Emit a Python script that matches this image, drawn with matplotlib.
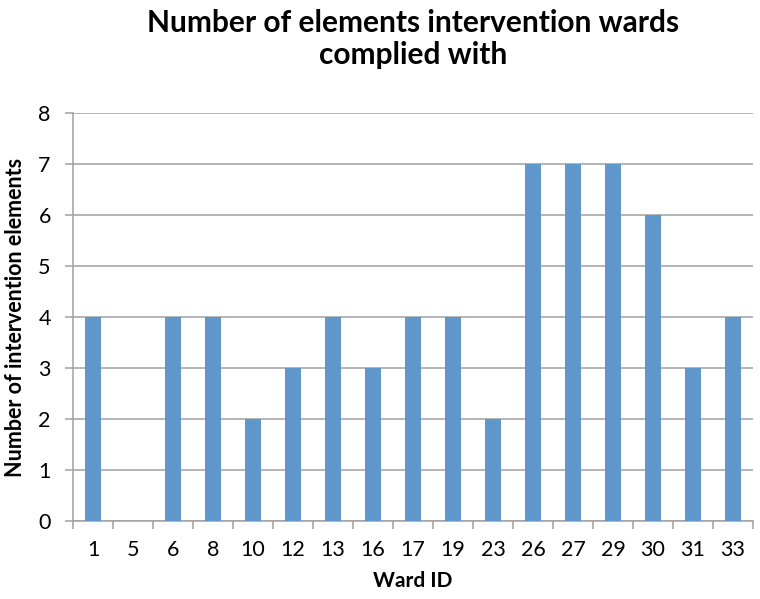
import matplotlib
matplotlib.use("Agg")
import matplotlib.pyplot as plt
import numpy as np

ward_ids = ["1", "5", "6", "8", "10", "12", "13", "16", "17", "19", "23", "26", "27", "29", "30", "31", "33"]
elements = [4, 0, 4, 4, 2, 3, 4, 3, 4, 4, 2, 7, 7, 7, 6, 3, 4]
y_ticks = [0, 1, 2, 3, 4, 5, 6, 7, 8]

plt.rcParams['font.family'] = ['Lato', 'DejaVu Sans']

fig = plt.figure(figsize=(7.6, 5.99), dpi=100)
ax = fig.add_axes([73/760, 1 - 521/599, 680/760, 408/599])

x = np.arange(len(ward_ids))
ax.bar(x, elements, width=0.4, color="#5F96CC", zorder=3)

ax.set_xlim(-0.5, len(ward_ids) - 0.5)
ax.set_ylim(0, 8)
ax.set_yticks(y_ticks)
ax.set_yticklabels([str(v) for v in y_ticks], fontsize=15.5)
ax.yaxis.grid(True, color="#A0A0A0", linewidth=1.1, zorder=0)

ax.set_xticks(x)
ax.set_xticklabels(ward_ids, fontsize=15.5)
ax.set_xticks(np.arange(len(ward_ids) + 1) - 0.5, minor=True)
ax.tick_params(axis='x', which='major', length=0, pad=14)
ax.tick_params(axis='x', which='minor', length=6, color="#A0A0A0", width=1.1, direction='out')
ax.tick_params(axis='y', length=6, color="#A0A0A0", width=1.1, pad=10)

for side in ['top', 'right']:
    ax.spines[side].set_visible(False)
for side in ['left', 'bottom']:
    ax.spines[side].set_color("#A0A0A0")
    ax.spines[side].set_linewidth(1.1)

ax.set_xlabel("Ward ID", fontsize=15, fontweight='bold')
ax.set_ylabel("Number of intervention elements", fontsize=15.5, fontweight='bold')
ax.xaxis.set_label_coords(0.5, (521 - 571) / 408)
ax.yaxis.set_label_coords((26 - 73) / 680, 0.5)

fig.text(413/760, 1 - 39/599, "Number of elements intervention wards\ncomplied with",
         ha='center', va='center', fontsize=21.5, fontweight='bold', linespacing=1.15)

fig.savefig("out.png", dpi=100)
